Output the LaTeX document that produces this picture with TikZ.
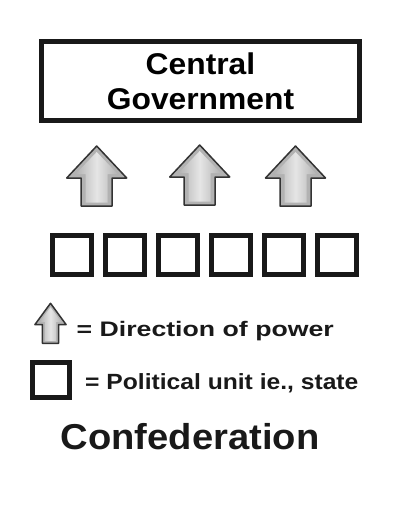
\documentclass[tikz,border=0pt]{standalone}
\usepackage{fontspec}
\setmainfont{Liberation Sans}
\newfontfamily\headfont{Liberation Sans}[FakeStretch=1.06]
\newfontfamily\dirfont{Liberation Sans}[FakeStretch=1.27]
\newfontfamily\unitfont{Liberation Sans}[FakeStretch=1.12]
\begin{document}
\begin{tikzpicture}[
			x=1pt, y=-1pt,
			thickbox/.style={draw=black!90, line width=5, inner sep=0},
			unitbox/.style={thickbox, minimum width=39, minimum height=39},
			label text/.style={inner sep=0, text=black!90},
			arrowedge/.style={draw=gray!40!black, line width=1.5, line join=round, fill=gray!60},
			arrowfill/.style={left color=gray!60, right color=gray!60, middle color=gray!20},
			powerarrow/.pic={
				\path[arrowedge] (-15.5,0) -- (-15.5,-28) -- (-30,-28) -- (0,-60)
					-- (30,-28) -- (15.5,-28) -- (15.5,0) -- cycle;
				\path[arrowfill] (-11,-3.5) -- (-11,-32) -- (-21,-32) -- (0,-54)
					-- (21,-32) -- (11,-32) -- (11,-3.5) -- cycle;
			}]
	
		\useasboundingbox (0,0) rectangle (403,509);
	
		\node[thickbox, minimum width=318, minimum height=79, align=center,
			font=\headfont\bfseries\fontsize{30}{35}\selectfont](government) at (200.5,81) {Central\\Government};
	
		\pic (arrowA) at (96.7,206) {powerarrow};
		\pic (arrowB) at (199.7,205) {powerarrow};
		\pic (arrowC) at (295.5,206) {powerarrow};
	
		\foreach \i in {0,...,5}
			\node[unitbox](unit\i) at (72+53*\i,255) {};
	
		\pic[xscale=0.52, yscale=0.667] (keyarrow) at (50.5,343.3) {powerarrow};
		\node[label text, anchor=base west, font=\dirfont\bfseries\fontsize{21}{25}\selectfont](keypower) at (76.5,336.7) {= Direction of power};
	
		\node[thickbox, minimum width=37, minimum height=35](keyunit) at (50.5,380) {};
		\node[label text, anchor=base west, font=\unitfont\bfseries\fontsize{22}{26}\selectfont](keystate) at (85,389) {= Political unit ie., state};
	
		\node[label text, anchor=base, font=\headfont\bfseries\fontsize{36}{40}\selectfont](title) at (190,449.3) {Confederation};
	\end{tikzpicture}
\end{document}
